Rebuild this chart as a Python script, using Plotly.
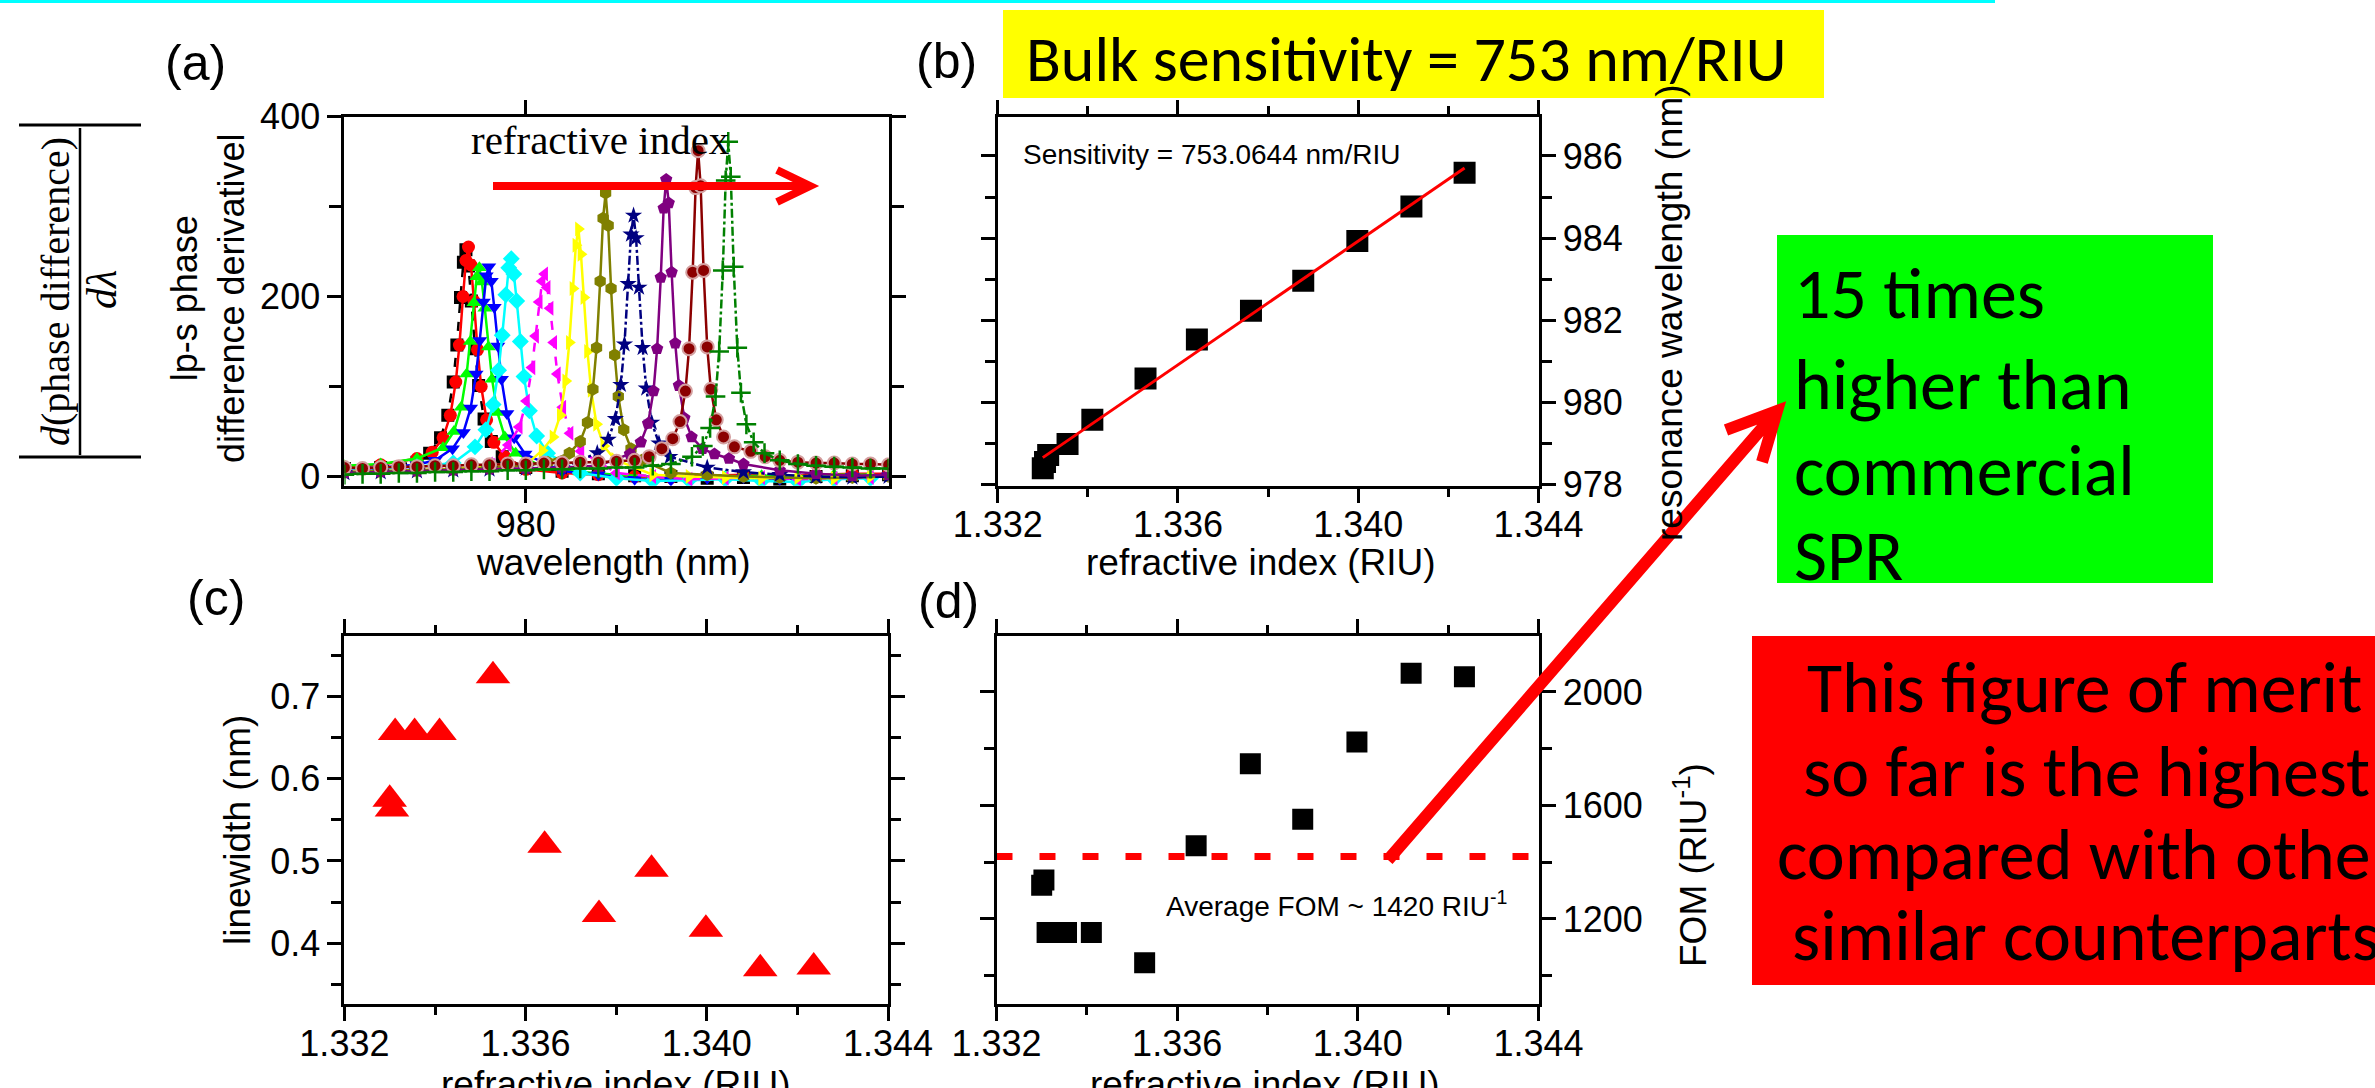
import plotly.graph_objects as go

W, H = 2375, 1088

def px(x):
    return x / W

def py(y):
    return 1 - y / H

# ---------------- panel (a): phase-difference derivative spectra ----------------
wl_black = [975, 976, 977, 977.35, 977.65, 977.85, 978.0, 978.1, 978.2, 978.28, 978.35, 978.42, 978.5, 978.6, 978.7, 978.85, 979.05, 979.35, 980, 981, 982, 983, 984, 985, 986, 987, 988, 989, 990]
v_black = [9, 10, 16, 26, 43, 68, 105, 146, 199, 238, 252, 234, 195, 142, 101, 64, 39, 22, 10, 6, 3, 1, 0, -2, -1, -3, 0, 1, 2]

wl_red = [975, 976, 977, 977.42, 977.72, 977.92, 978.07, 978.17, 978.27, 978.35, 978.42, 978.49, 978.57, 978.67, 978.77, 978.92, 979.12, 979.42, 980, 981, 982, 983, 984, 985, 986, 987, 988, 989, 990]
v_red = [10, 13, 20, 27, 43, 68, 105, 146, 200, 240, 255, 235, 195, 141, 100, 63, 38, 22, 8, 4, 2, 0, -1, 1, 2, 0, 2, 3, 3]

wl_green = [975, 976, 977, 977.72, 978.02, 978.22, 978.37, 978.47, 978.57, 978.65, 978.72, 978.79, 978.87, 978.97, 979.07, 979.22, 979.42, 979.72, 980.5, 981.5, 982.5, 983.5, 984.5, 985.5, 986.5, 987.5, 988.5, 989.5]
v_green = [12, 14, 20, 32, 50, 77, 114, 150, 193, 222, 232, 216, 187, 144, 108, 71, 44, 26, 10, 5, 2, 0, -2, 0, 1, 0, 2, 2]

wl_blue = [975, 976, 977, 977.5, 977.98, 978.28, 978.48, 978.63, 978.73, 978.83, 978.91, 978.98, 979.05, 979.13, 979.23, 979.33, 979.48, 979.68, 979.98, 981, 982, 983, 984, 985, 986, 987, 988, 989, 990]
v_blue = [8, 10, 13, 18, 31, 49, 76, 114, 151, 194, 223, 233, 217, 188, 145, 108, 70, 43, 25, 6, 2, -3, -4, -2, -1, -3, -1, 0, 1]

wl_cyan = [975, 976, 977, 978, 978.6, 978.9, 979.1, 979.25, 979.35, 979.45, 979.53, 979.6, 979.67, 979.75, 979.85, 979.95, 980.1, 980.3, 980.6, 981.5, 982.5, 983.5, 984.5, 985.5, 986.5, 987.5, 988.5, 989.5]
v_cyan = [8, 9, 11, 15, 33, 52, 80, 118, 157, 202, 232, 242, 225, 195, 150, 111, 73, 45, 26, 4, -2, -5, -4, -3, -5, -6, -3, -2]

wl_magenta = [975, 976, 977, 978, 979, 979.52, 979.82, 980.02, 980.17, 980.27, 980.37, 980.45, 980.52, 980.59, 980.67, 980.77, 980.87, 981.02, 981.22, 981.52, 982.5, 983.5, 984.5, 985.5, 986.5, 987.5, 988.5, 989.5]
v_magenta = [6, 7, 8, 10, 14, 35, 55, 84, 121, 156, 194, 217, 225, 210, 187, 149, 114, 77, 48, 28, 4, 0, -3, -2, -1, -3, -2, -1]

wl_yellow = [975, 976, 977, 978, 979, 980, 980.45, 980.75, 980.95, 981.1, 981.2, 981.3, 981.38, 981.45, 981.52, 981.6, 981.7, 981.8, 981.95, 982.15, 982.45, 983.5, 984.5, 985.5, 986.5, 987.5, 988.5, 989.5]
v_yellow = [5, 6, 7, 9, 11, 13, 29, 44, 68, 106, 149, 209, 257, 275, 247, 199, 139, 96, 58, 34, 19, 2, 0, -1, -2, -1, -2, 0]

wl_olive = [975, 976, 977, 978, 979, 980, 980.6, 981.2, 981.5, 981.7, 981.85, 981.95, 982.05, 982.13, 982.2, 982.27, 982.35, 982.45, 982.55, 982.7, 982.9, 983.2, 984, 985, 986, 987, 988, 989, 990]
v_olive = [5, 6, 7, 8, 10, 12, 16, 26, 39, 60, 97, 143, 217, 287, 315, 279, 209, 135, 89, 52, 31, 18, 4, 2, 0, -1, -2, -1, 0]

wl_navy = [975, 976, 977, 978, 979, 980, 981, 981.97, 982.27, 982.47, 982.62, 982.72, 982.82, 982.9, 982.97, 983.04, 983.12, 983.22, 983.32, 983.47, 983.67, 983.97, 985, 986, 987, 988, 989, 990]
v_navy = [4, 5, 6, 7, 8, 9, 10, 26, 41, 64, 102, 147, 214, 269, 290, 265, 210, 143, 98, 60, 37, 22, 10, 5, 2, 0, -1, 0]

wl_purple = [975, 976, 977, 978, 979, 980, 981, 982, 982.87, 983.17, 983.37, 983.52, 983.62, 983.72, 983.8, 983.87, 983.94, 984.02, 984.12, 984.22, 984.37, 984.57, 984.87, 985.2, 985.6, 986, 987, 988, 989, 990]
v_purple = [4, 5, 6, 7, 8, 9, 10, 12, 25, 38, 59, 95, 142, 221, 298, 330, 304, 227, 148, 101, 65, 44, 31, 25, 20, 14, 7, 3, 1, 2]

wl_maroon = [975, 975.5, 976, 976.5, 977, 977.5, 978, 978.5, 979, 979.5, 980, 980.5, 981, 981.5, 982, 982.5, 983, 983.4, 983.75, 984.05, 984.25, 984.4, 984.5, 984.6, 984.68, 984.75, 984.82, 984.9, 985, 985.1, 985.25, 985.45, 985.75, 986.2, 986.6, 987, 987.5, 988, 988.5, 989, 989.5, 990]
v_maroon = [10, 9, 10, 11, 11, 12, 12, 13, 13, 14, 14, 15, 15, 16, 16, 17, 18, 22, 31, 42, 61, 95, 142, 227, 321, 362, 323, 229, 144, 97, 63, 44, 33, 28, 22, 18, 16, 15, 15, 14, 14, 13]

wl_dkgreen = [975, 975.5, 976, 976.5, 977, 977.5, 978, 978.5, 979, 979.5, 980, 980.5, 981, 981.5, 982, 982.5, 983, 983.5, 984, 984.58, 984.88, 985.08, 985.23, 985.33, 985.43, 985.51, 985.58, 985.65, 985.73, 985.83, 985.93, 986.08, 986.28, 986.58, 987, 987.5, 988, 988.5, 989, 989.5, 990]
v_dkgreen = [2, 3, 3, 4, 4, 5, 5, 6, 6, 7, 7, 8, 8, 9, 9, 10, 10, 12, 14, 22, 34, 54, 89, 139, 229, 329, 372, 333, 233, 143, 93, 58, 38, 26, 18, 14, 12, 11, 10, 9, 9]

spectra = [
    (wl_black, v_black, "#000000", "square", "dash"),
    (wl_red, v_red, "#FF0000", "circle", "solid"),
    (wl_green, v_green, "#00FF00", "triangle-up", "solid"),
    (wl_blue, v_blue, "#0000FF", "triangle-down", "solid"),
    (wl_cyan, v_cyan, "#00FFFF", "diamond", "solid"),
    (wl_magenta, v_magenta, "#FF00FF", "triangle-left", "dash"),
    (wl_yellow, v_yellow, "#FFFF00", "triangle-right", "solid"),
    (wl_olive, v_olive, "#808000", "hexagon", "solid"),
    (wl_navy, v_navy, "#000080", "star", "dashdot"),
    (wl_purple, v_purple, "#800080", "pentagon", "solid"),
    (wl_maroon, v_maroon, "#8B0000", "circle", "solid"),
    (wl_dkgreen, v_dkgreen, "#008000", "cross-thin", "dashdot"),
]

# ---------------- panels (b)-(d) ----------------
ri = [1.33300, 1.33305, 1.33312, 1.33355, 1.33410, 1.33528, 1.33642, 1.33762, 1.33878, 1.33998, 1.34118, 1.34236]
res_wl = [978.40, 978.55, 978.72, 978.99, 979.58, 980.58, 981.53, 982.23, 982.96, 983.93, 984.77, 985.59]
linewidth = [0.575, 0.563, 0.656, 0.656, 0.656, 0.725, 0.519, 0.435, 0.490, 0.417, 0.369, 0.371]
fom = [1319, 1337, 1152, 1152, 1152, 1045, 1458, 1747, 1551, 1824, 2066, 2054]
sensitivity = 753.0644
avg_fom = 1420
avg_fom_span = [1.3320, 1.3438]

mx = sum(ri) / len(ri)
my = sum(res_wl) / len(res_wl)
fit_x = [ri[0], ri[-1]]
fit_y = [my + sensitivity * (x - mx) for x in fit_x]

fig = go.Figure()

for wl, v, col, sym, dash in spectra:
    mk = dict(symbol=sym, size=13, color=col)
    if sym == "cross-thin":
        mk.update(line=dict(color=col, width=2.5), size=14)
    elif col == "#8B0000":
        mk.update(line=dict(color="#D4A0A0", width=2), size=13)
    else:
        mk.update(line=dict(width=0))
    fig.add_trace(go.Scatter(x=wl, y=v, mode="lines+markers", xaxis="x", yaxis="y",
                             line=dict(color=col, width=2.5, dash=dash), marker=mk,
                             showlegend=False, hoverinfo="skip"))

fig.add_trace(go.Scatter(x=ri, y=res_wl, mode="markers", xaxis="x2", yaxis="y2",
                         marker=dict(symbol="square", size=22, color="black"), showlegend=False))
fig.add_trace(go.Scatter(x=fit_x, y=fit_y, mode="lines", xaxis="x2", yaxis="y2",
                         line=dict(color="#FF0000", width=3), showlegend=False))

fig.add_trace(go.Scatter(x=ri, y=linewidth, mode="markers", xaxis="x3", yaxis="y3",
                         marker=dict(symbol="triangle-up", size=30, color="#FF0000"), showlegend=False))

fig.add_trace(go.Scatter(x=avg_fom_span, y=[avg_fom, avg_fom], mode="lines", xaxis="x4", yaxis="y4",
                         line=dict(color="#FF0000", width=7, dash="16px,27px"), showlegend=False))
fig.add_trace(go.Scatter(x=ri, y=fom, mode="markers", xaxis="x4", yaxis="y4",
                         marker=dict(symbol="square", size=21, color="black"), showlegend=False))

TICKFONT = dict(family="Liberation Sans, Arial, sans-serif", size=36, color="black")
base = dict(showline=True, linewidth=3, linecolor="black", mirror="allticks", ticks="outside",
            ticklen=14, tickwidth=3, tickcolor="black", showgrid=False, zeroline=False,
            tickfont=TICKFONT, automargin=False)
xbase = dict(base, ticklabelstandoff=-9)

def minor(d, ln=8):
    return dict(dtick=d, ticks="outside", ticklen=ln, tickwidth=3, tickcolor="black", showgrid=False)

ya_dom = [py(485.8), py(116.5)]
yc_dom = [py(1004.4), py(635.8)]

fig.update_layout(
    template="none",
    width=W, height=H, autosize=False,
    margin=dict(l=0, r=0, t=0, b=0, pad=0),
    paper_bgcolor="white", plot_bgcolor="white",
    xaxis=dict(xbase, domain=[px(344.4), px(888.6)], range=[975, 990], tickvals=[980], anchor="y"),
    yaxis=dict(base, domain=ya_dom, range=[-10.3, 400], tick0=0, dtick=200, minor=minor(100, 12), anchor="x"),
    xaxis2=dict(xbase, domain=[px(997.7), px(1538.5)], range=[1.332, 1.344], tick0=1.332, dtick=0.004,
                tickformat=".3f", minor=minor(0.002), anchor="y2"),
    yaxis2=dict(base, domain=ya_dom, range=[977.97, 986.96], side="right", tick0=978, dtick=2,
                minor=minor(1, 10), anchor="x2"),
    xaxis3=dict(xbase, domain=[px(344.4), px(888.0)], range=[1.332, 1.344], tick0=1.332, dtick=0.004,
                tickformat=".3f", minor=minor(0.002), anchor="y3"),
    yaxis3=dict(base, domain=yc_dom, range=[0.3256, 0.7737], tick0=0.4, dtick=0.1, tickformat=".1f",
                minor=minor(0.05, 10), anchor="x3"),
    xaxis4=dict(xbase, domain=[px(996.5), px(1538.5)], range=[1.332, 1.344], tick0=1.332, dtick=0.004,
                tickformat=".3f", minor=minor(0.002), anchor="y4"),
    yaxis4=dict(base, domain=yc_dom, range=[898.6, 2198], side="right", tick0=0, dtick=400,
                minor=minor(200, 10), anchor="x4"),
)

SANS = "Liberation Sans, Arial, sans-serif"
SERIF = "Liberation Serif, Times New Roman, serif"
CAL = "Calibri, Carlito, Lato, sans-serif"

ann = []

def text(x, y, s, size, family=SANS, angle=0, xa="center", ya="middle", color="black"):
    ann.append(dict(x=px(x), y=py(y), xref="paper", yref="paper", text=s, showarrow=False,
                    textangle=angle, xanchor=xa, yanchor=ya,
                    font=dict(family=family, size=size, color=color)))

text(195, 63, "(a)", 50)
text(946, 61, "(b)", 50)
text(216, 598, "(c)", 50)
text(948, 601, "(d)", 50)

text(208, 298, "lp-s phase<br>difference derivativel", 36, angle=-90)
text(614, 562, "wavelength (nm)", 37)
text(1261, 562, "refractive index (RIU)", 37)
text(1669, 312, "resonance wavelength (nm)", 37, angle=-90)
text(237, 830, "linewidth (nm)", 37, angle=-90)
text(616, 1062, "refractive index (RIU)", 37, ya="top")
text(1265, 1062, "refractive index (RIU)", 37, ya="top")
text(1690, 865, "FOM (RIU<sup>-1</sup>)", 37, angle=-90)

text(600, 140, "refractive index", 41, family=SERIF)
text(1211, 154, "Sensitivity = 753.0644 nm/RIU", 28)
text(1336, 904, "Average FOM ~ 1420 RIU<sup>-1</sup>", 28)

text(56, 292, "<i>d</i>(phase difference)", 40, family=SERIF, angle=-90)
text(102, 290, "<i>dλ</i>", 42, family=SERIF, angle=-90)

text(1024, 59, "Bulk sensitivity = 753 nm/RIU", 64, family=CAL, xa="left")
for s, yc in zip(["15 times", "higher than", "commercial", "SPR"], [293, 384, 470, 555]):
    text(1792, yc, s, 72, family=CAL, xa="left")
for s, xl, yc in zip(["This figure of merit", "so far is the highest", "compared with other", "similar counterparts"],
                     [1805, 1801, 1775, 1790], [687, 771, 854, 935]):
    text(xl, yc, s, 72, family=CAL, xa="left")

shapes = []

def rect(x0, y0, x1, y1, color, layer="below"):
    shapes.append(dict(type="rect", xref="paper", yref="paper", x0=px(x0), x1=px(x1), y0=py(y1), y1=py(y0),
                       fillcolor=color, line=dict(width=0), layer=layer))

def line(x0, y0, x1, y1, color="black", width=3):
    shapes.append(dict(type="line", xref="paper", yref="paper", x0=px(x0), x1=px(x1), y0=py(y0), y1=py(y1),
                       line=dict(color=color, width=width), layer="above"))

def arrow(pts, head, color, width):
    (x0, y0), (x1, y1) = pts
    (hx1, hy1), (hx2, hy2) = head
    path = (f"M{px(x0)},{py(y0)} L{px(x1)},{py(y1)} "
            f"M{px(hx1)},{py(hy1)} L{px(x1)},{py(y1)} L{px(hx2)},{py(hy2)}")
    shapes.append(dict(type="path", xref="paper", yref="paper", path=path,
                       line=dict(color=color, width=width), layer="above"))

rect(0, 0, 1995, 3, "#00FFFF")
rect(1003, 10, 1824, 98, "#FFFF00")
rect(1777, 235, 2213, 583, "#00FF00")
rect(1752, 636, 2380, 985, "#FF0000")

line(19, 125, 141, 125, width=3)
line(19, 457, 141, 457, width=3)
line(80, 128, 80, 455, width=2.5)

arrow([(493, 186), (810, 186)], [(777, 170), (777, 202)], "#FF0000", 8)
arrow([(1388, 860), (1777, 411)], [(1726, 430), (1762, 462)], "#FF0000", 12)

fig.update_layout(annotations=ann, shapes=shapes)

fig.write_html("out.html", config={"responsive": False, "displayModeBar": False},
               post_script="document.body.style.margin='0';document.body.style.overflow='hidden';")
